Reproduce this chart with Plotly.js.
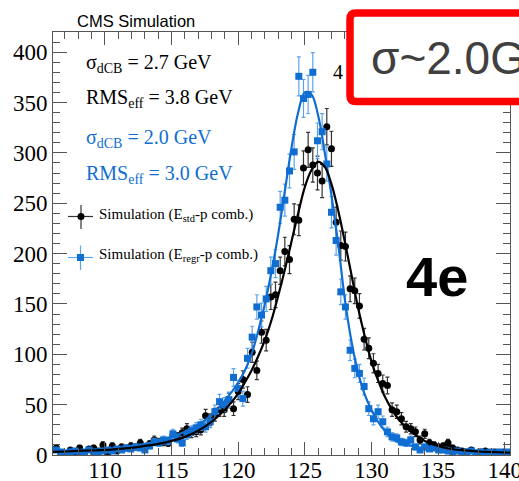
<!DOCTYPE html>
<html><head><meta charset="utf-8">
<script src="https://cdn.plot.ly/plotly-3.0.1.min.js"></script>
<style>html,body{margin:0;padding:0;background:#fff;overflow:hidden}#plot{width:519px;height:481px}</style>
</head><body><div id="plot"></div>
<script>
// ---- data ----
const massBins = [106.35,106.70,107.05,107.40,107.75,108.10,108.45,108.80,109.15,109.50,109.85,110.20,110.55,110.90,111.25,111.60,111.95,112.30,112.65,113.00,113.35,113.70,114.05,114.40,114.75,115.10,115.45,115.80,116.15,116.50,116.85,117.20,117.55,117.90,118.25,118.60,118.95,119.30,119.65,120.00,120.35,120.70,121.05,121.40,121.75,122.10,122.45,122.80,123.15,123.50,123.85,124.20,124.55,124.90,125.25,125.60,125.95,126.30,126.65,127.00,127.35,127.70,128.05,128.40,128.75,129.10,129.45,129.80,130.15,130.50,130.85,131.20,131.55,131.90,132.25,132.60,132.95,133.30,133.65,134.00,134.35,134.70,135.05,135.40,135.75,136.10,136.45,136.80,137.15,137.50,137.85,138.20,138.55,138.90,139.25,139.60,139.95,140.30];
const stdCounts = [7,1,1,5,0,7,1,6,7,4,10,1,9,4,8,7,9,8,12,8,11,15,13,13,12,19,18,22,26,22,23,25,39,35,40,45,45,54,46,63,75,60,102,84,122,114,157,159,183,202,194,234,233,285,303,288,280,272,326,304,231,208,207,165,163,148,115,106,91,81,71,69,45,43,36,28,26,23,15,21,12,10,8,9,12,7,5,4,3,5,2,3,4,2,3,2,3,2];
const regrCounts = [5,3,2,3,4,2,3,5,3,2,4,5,4,6,5,7,6,8,7,5,9,13,12,15,14,21,16,12,20,24,27,30,28,33,43,53,50,55,77,66,56,96,117,147,139,155,183,190,246,253,282,301,376,354,358,380,312,321,289,241,213,162,147,104,86,81,68,46,36,43,33,23,18,17,13,12,15,8,5,8,6,7,5,5,4,3,4,2,3,4,2,3,2,3,2,3,2,3];
const fitMass = [106,107,108,109,110,111,112,113,114,115,116,117,118,119,120,120.5,121,121.5,122,122.5,123,123.5,124,124.5,125,125.5,126,126.5,127,127.5,128,128.5,129,129.5,130,130.5,131,131.5,132,133,134,135,136,137,138,139,140,140.5];
const fitStd = [3,3.5,4,4.5,5,6,7,9,11,14,18,24,33,45,61,72,84,98,114,134,158,184,212,240,266,283,291,286,269,243,212,179,146,118,93,74,58,46,36,23,14,9,6,4.5,3.5,3,2.5,2.3];
const fitRegr = [3,3.5,4,5,6,7,9,11,14,18,23,30,40,54,72,84,100,123,150,182,219,262,305,340,360,358,337,300,258,210,155,113,82,60,45,33,24,17,13,9,6,4.5,3.5,3,2.5,2.2,2,2];
const xTickVals = [110,115,120,125,130,135,140];
const xTickText = ["110","115","120","125","130","135","140"];
const yTickVals = [0,50,100,150,200,250,300,350,400];
const yTickText = ["0","50","100","150","200","250","300","350","400"];
const seriesNames = ["Simulation (E<sub>std</sub>-p comb.)","Simulation (E<sub>regr</sub>-p comb.)"];

// ---- styling ----
const BLUE = '#106ed2', BLUE_ERR = '#5ea4e8', BLACK = '#000000', BLACK_ERR = '#333333';
const SERIF = 'Liberation Serif, Times New Roman, serif';
const SANS = 'Liberation Sans, Arial, sans-serif';
const W = 519, H = 481, ML = 53, MR = 9, MT = 32, MB = 26;
const PW = W - ML - MR, PH = H - MT - MB;
const PX = x => (x - ML) / PW;
const PY = y => (H - MB - y) / PH;

const traces = [
  {x: massBins, y: stdCounts, type: 'scatter', mode: 'markers', name: seriesNames[0], showlegend: false,
   marker: {symbol: 'circle', size: 7, color: BLACK},
   error_y: {type: 'sqrt', visible: true, color: BLACK_ERR, thickness: 1.2, width: 2}},
  {x: massBins, y: regrCounts, type: 'scatter', mode: 'markers', name: seriesNames[1], showlegend: false,
   marker: {symbol: 'square', size: 7, color: BLUE},
   error_y: {type: 'sqrt', visible: true, color: BLUE_ERR, thickness: 1.2, width: 2}},
  {x: fitMass, y: fitRegr, type: 'scatter', mode: 'lines', showlegend: false, hoverinfo: 'skip',
   line: {color: BLUE, width: 2.2, shape: 'spline', smoothing: 1}},
  {x: fitMass, y: fitStd, type: 'scatter', mode: 'lines', showlegend: false, hoverinfo: 'skip',
   line: {color: BLACK, width: 2.2, shape: 'spline', smoothing: 1}}
];

const axisCommon = {
  showline: true, linecolor: '#555', linewidth: 1, mirror: 'ticks',
  ticks: 'inside', tickcolor: '#555', tickwidth: 1,
  showgrid: false, zeroline: false, automargin: false,
  ticklabeloverflow: 'allow',
  tickfont: {family: SERIF, size: 23, color: '#000'}
};

function ann(text, x, y, size, color, family, extra) {
  return Object.assign({text: text, xref: 'paper', yref: 'paper', x: PX(x), y: PY(y),
    xanchor: 'left', yanchor: 'middle', showarrow: false,
    font: {family: family || SERIF, size: size, color: color || '#000'}}, extra || {});
}

const r = 6, bx0 = 350, by0 = 13, bx1 = 560, by1 = 101.5;
const boxPath = `M ${PX(bx0+r)},${PY(by0)} L ${PX(bx1)},${PY(by0)} L ${PX(bx1)},${PY(by1)} L ${PX(bx0+r)},${PY(by1)} Q ${PX(bx0)},${PY(by1)} ${PX(bx0)},${PY(by1-r)} L ${PX(bx0)},${PY(by0+r)} Q ${PX(bx0)},${PY(by0)} ${PX(bx0+r)},${PY(by0)} Z`;

const shapes = [
  // legend symbols
  {type: 'line', xref: 'paper', yref: 'paper', x0: PX(68), x1: PX(93), y0: PY(216.5), y1: PY(216.5), line: {color: BLACK_ERR, width: 1.2}, layer: 'above'},
  {type: 'line', xref: 'paper', yref: 'paper', x0: PX(81), x1: PX(81), y0: PY(205), y1: PY(229), line: {color: BLACK_ERR, width: 1.2}, layer: 'above'},
  {type: 'circle', xref: 'paper', yref: 'paper', x0: PX(77.5), x1: PX(84.5), y0: PY(213), y1: PY(220), fillcolor: BLACK, line: {width: 0}, layer: 'above'},
  {type: 'line', xref: 'paper', yref: 'paper', x0: PX(68), x1: PX(93), y0: PY(257.5), y1: PY(257.5), line: {color: BLUE_ERR, width: 1.2}, layer: 'above'},
  {type: 'line', xref: 'paper', yref: 'paper', x0: PX(80.5), x1: PX(80.5), y0: PY(245.5), y1: PY(270), line: {color: BLUE_ERR, width: 1.2}, layer: 'above'},
  {type: 'rect', xref: 'paper', yref: 'paper', x0: PX(77), x1: PX(84), y0: PY(254), y1: PY(261), fillcolor: BLUE, line: {width: 0}, layer: 'above'},
  // red highlight box
  {type: 'path', xref: 'paper', yref: 'paper', path: boxPath, fillcolor: '#ffffff', line: {color: '#ff0000', width: 7.5}, layer: 'above'}
];

const annotations = [
  ann('CMS Simulation', 136, 21, 16.5, '#000', SANS, {xanchor: 'center'}),
  ann('σ<sub>dCB</sub> = 2.7 GeV', 84, 63, 20, '#000'),
  ann('RMS<sub>eff</sub> = 3.8 GeV', 84, 98, 20, '#000'),
  ann('σ<sub>dCB</sub> = 2.0 GeV', 84, 138, 20, BLUE),
  ann('RMS<sub>eff</sub> = 3.0 GeV', 84, 174, 20, BLUE),
  ann(seriesNames[0], 97, 215, 15, '#000'),
  ann(seriesNames[1], 97, 255, 15, '#000'),
  ann('4', 331, 72, 20, '#000'),
  ann('<b>4e</b>', 404, 276, 56, '#000', SANS),
  ann('σ~2.0GeV', 369, 58, 46, '#404040', SANS)
];

const layout = {
  width: W, height: H, margin: {l: ML, r: MR, t: MT, b: MB, pad: 0},
  paper_bgcolor: '#fff', plot_bgcolor: '#fff', showlegend: false,
  xaxis: Object.assign({}, axisCommon, {range: [106.1, 140.4], tickmode: 'array', tickvals: xTickVals, ticktext: xTickText, ticklen: 13,
    ticklabelstandoff: -6,
    minor: {dtick: 1, tick0: 0, ticks: 'inside', ticklen: 7, tickcolor: '#555', showgrid: false}}),
  yaxis: Object.assign({}, axisCommon, {range: [0, 420], tickmode: 'array', tickvals: yTickVals, ticktext: yTickText, ticklen: 14,
    minor: {dtick: 10, tick0: 0, ticks: 'inside', ticklen: 7, tickcolor: '#555', showgrid: false}}),
  shapes: shapes,
  annotations: annotations
};

Plotly.newPlot('plot', traces, layout, {displayModeBar: false, staticPlot: true});
</script>
</body></html>
